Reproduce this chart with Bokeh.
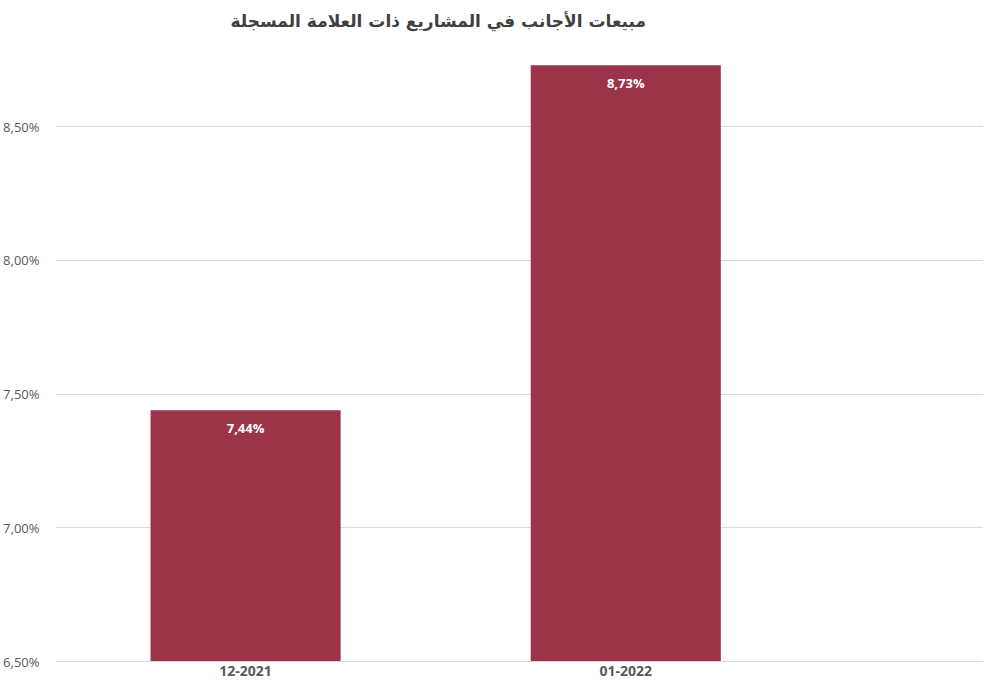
from bokeh.plotting import figure
from bokeh.models import Range1d, FixedTicker, ColumnDataSource, LabelSet
from bokeh.core.properties import value
from bokeh.embed import file_html
from bokeh.resources import INLINE

title_text = "مبيعات الأجانب في المشاريع ذات العلامة المسجلة"
categories = ["12-2021", "01-2022"]
values = [7.44, 8.73]
value_labels = ["7,44%", "8,73%"]
y_ticks = [6.5, 7.0, 7.5, 8.0, 8.5]
y_tick_labels = ["6,50%", "7,00%", "7,50%", "8,00%", "8,50%"]

xs = [i + 0.5 for i in range(len(categories))]
bar_color = "#9B3349"

src = ColumnDataSource(dict(x=xs, top=values, lab=value_labels))

p = figure(width=983, height=678, output_backend="svg", toolbar_location=None,
           x_range=Range1d(0, 2.441), y_range=Range1d(6.5, 8.83),
           min_border_left=45, min_border_right=0, min_border_top=10, min_border_bottom=0)
p.title.text = title_text
p.title.align = "left"
p.title.offset = 175
p.title.text_font = "DejaVu Sans"
p.title.text_font_size = "17px"
p.title.text_font_style = "bold"
p.title.text_color = "#404040"
p.title.standoff = 16

p.outline_line_color = None
p.background_fill_color = "white"
p.border_fill_color = "white"

p.vbar(x="x", top="top", bottom=6.5, width=0.5, source=src,
       fill_color=bar_color, line_color=None)

labels = LabelSet(x="x", y="top", text="lab", source=src, y_offset=-18,
                  text_align="center", text_baseline="middle",
                  text_color="white", text_font=value("Open Sans"), text_font_style="bold",
                  text_font_size="13px")
p.add_layout(labels)

p.xaxis.ticker = FixedTicker(ticks=xs)
p.xaxis.major_label_overrides = {x: c for x, c in zip(xs, categories)}
p.xaxis.major_label_text_font = "Open Sans"
p.xaxis.major_label_text_font_style = "bold"
p.xaxis.major_label_text_font_size = "14px"
p.xaxis.major_label_text_color = "#595959"
p.xaxis.axis_line_color = "#d9d9d9"
p.xaxis.major_tick_line_color = None
p.xaxis.minor_tick_line_color = None
p.xaxis.major_tick_out = 0
p.xaxis.major_tick_in = 0
p.xaxis.major_label_standoff = 4

p.yaxis.ticker = FixedTicker(ticks=y_ticks)
p.yaxis.major_label_overrides = {t: l for t, l in zip(y_ticks, y_tick_labels)}
p.yaxis.major_label_text_font = "Open Sans"
p.yaxis.major_label_text_font_size = "13px"
p.yaxis.major_label_text_color = "#595959"
p.yaxis.axis_line_color = None
p.yaxis.major_tick_line_color = None
p.yaxis.minor_tick_line_color = None
p.yaxis.major_label_standoff = 10

p.xgrid.grid_line_color = None
p.ygrid.grid_line_color = "#d9d9d9"
p.ygrid.ticker = FixedTicker(ticks=y_ticks)

open("out.html", "w").write(file_html(p, INLINE))
